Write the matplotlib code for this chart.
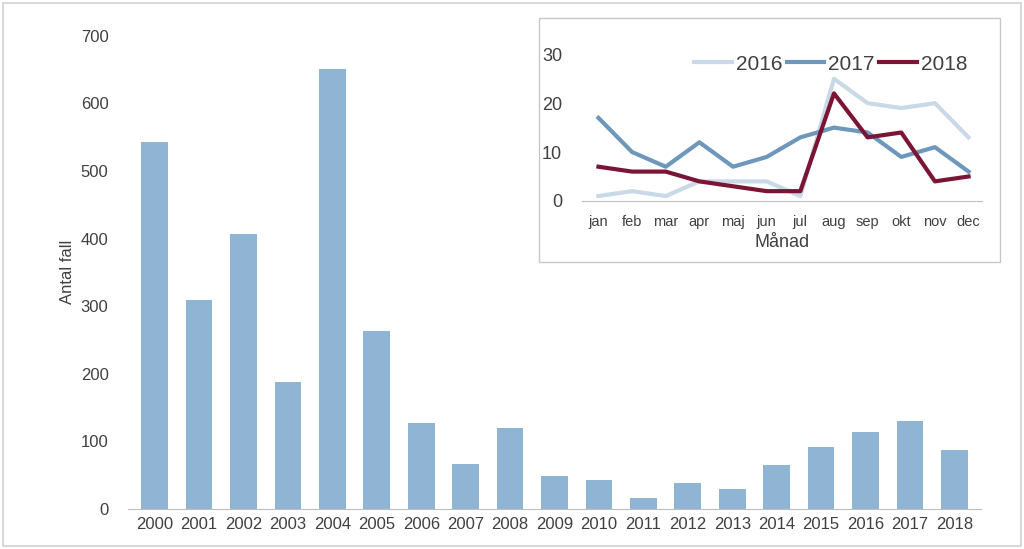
import matplotlib
matplotlib.use("Agg")
import matplotlib.pyplot as plt
from matplotlib.patches import Rectangle

years = [str(y) for y in range(2000, 2019)]
cases = [543, 309, 407, 188, 650, 263, 127, 67, 120, 49, 43, 16, 38, 30, 65, 92, 114, 130, 87]
months = ["jan", "feb", "mar", "apr", "maj", "jun", "jul", "aug", "sep", "okt", "nov", "dec"]
s2016 = [1, 2, 1, 4, 4, 4, 1, 25, 20, 19, 20, 13]
s2017 = [17, 10, 7, 12, 7, 9, 13, 15, 14, 9, 11, 6]
s2018 = [7, 6, 6, 4, 3, 2, 2, 22, 13, 14, 4, 5]

plt.rcParams["font.family"] = "Liberation Sans"
fig = plt.figure(figsize=(10.24, 5.49), dpi=100)
fig.patches.append(Rectangle((0.003, 0.005), 0.994, 0.99, transform=fig.transFigure,
                             fill=False, edgecolor="#d0d0d0", lw=1.2))
ax = fig.add_axes([0.125, 0.073, 0.833, 0.862])
ax.bar(years, cases, width=0.6, color="#8fb4d4")
ax.set_ylim(0, 700)
ax.set_xlim(-0.6, 18.6)
ax.set_yticks(range(0, 701, 100))
ax.set_ylabel("Antal fall", fontsize=12, color="#404040")
for s in ["top", "right", "left"]:
    ax.spines[s].set_visible(False)
ax.spines["bottom"].set_color("#bfbfbf")
ax.tick_params(length=0, labelsize=12, colors="#404040", pad=6)
ax.tick_params(axis="y", pad=14)

fig.patches.append(Rectangle((0.526, 0.523), 0.451, 0.445, transform=fig.transFigure,
                             facecolor="white", edgecolor="#c8c8c8", lw=1, zorder=2))
ins = fig.add_axes([0.568, 0.634, 0.391, 0.276], zorder=3)
ins.patch.set_alpha(0)
x = range(len(months))
ins.plot(x, s2016, color="#c9d9e8", lw=3, label="2016")
ins.plot(x, s2017, color="#6d97bb", lw=3, label="2017")
ins.plot(x, s2018, color="#7b1535", lw=3, label="2018")
ins.set_xticks(list(x))
ins.set_xticklabels(months)
ins.set_ylim(0, 31)
ins.set_yticks([0, 10, 20, 30])
ins.set_xlim(-0.5, 11.4)
for s in ["top", "right", "left"]:
    ins.spines[s].set_visible(False)
ins.spines["bottom"].set_color("#bfbfbf")
ins.tick_params(length=0, colors="#404040")
ins.tick_params(axis="x", labelsize=10.5, pad=10)
ins.tick_params(axis="y", labelsize=13, pad=14)
ins.set_xlabel("Månad", fontsize=13, color="#404040", labelpad=4)
ins.legend(loc="upper right", bbox_to_anchor=(1.01, 1.09), ncol=3, frameon=False, fontsize=15,
           handlelength=1.8, handletextpad=0.2, columnspacing=0.2, labelcolor="#404040")
fig.savefig("out.png", dpi=100)
